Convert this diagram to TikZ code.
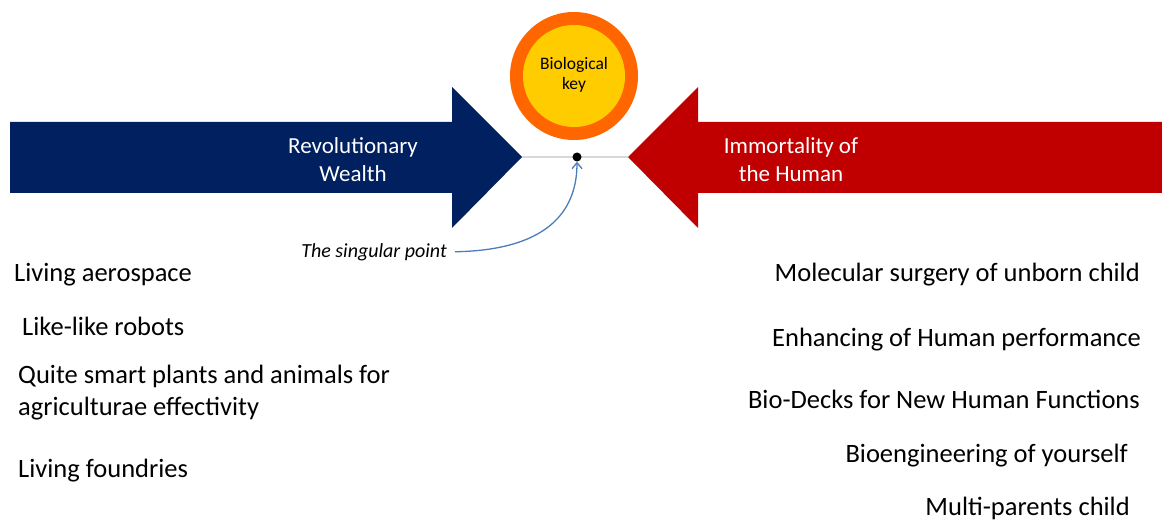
\documentclass[tikz,border=0pt]{standalone}
\usepackage{fontspec}
\setmainfont{Carlito}
\usetikzlibrary{arrows.meta}

\definecolor{wealthblue}{HTML}{002060}
\definecolor{humanred}{HTML}{C00000}
\definecolor{ringorange}{HTML}{FF6600}
\definecolor{coreyellow}{HTML}{FFCC00}
\definecolor{axisgray}{HTML}{D9D9D9}
\definecolor{pointerblue}{HTML}{4A7EBB}

\tikzset{
  biglabel/.style={text=white, align=center, inner sep=0pt, anchor=base,
    font=\fontsize{23}{28}\selectfont},
  leftitem/.style={anchor=base west, inner sep=0pt, align=left,
    font=\fontsize{26.5}{32}\selectfont},
  rightitem/.style={anchor=base east, inner sep=0pt,
    font=\fontsize{26.5}{32}\selectfont},
  pointer/.style={draw=pointerblue, line width=1.3pt,
    -{Straight Barb[length=6pt,width=10pt]}},
}

\begin{document}
\begin{tikzpicture}[x=1pt,y=-1pt]
\useasboundingbox (0,0) rectangle (1162,521);

% the two block arrows meeting in the middle
\fill[wealthblue] (10,122) -- (452,122) -- (452,87) -- (522,157)
  -- (452,228) -- (452,193) -- (10,193) -- cycle;
\fill[humanred] (1162,122) -- (698,122) -- (698,87) -- (628,157)
  -- (698,228) -- (698,193) -- (1162,193) -- cycle;

% thin axis between the arrow tips
\coordinate (ltip) at (522,157);
\coordinate (rtip) at (628,157);
\draw[axisgray, line width=1.2pt] (ltip) -- (rtip);

% biological key disc
\node[circle, fill=ringorange, minimum size=128pt, inner sep=0pt] (ring) at (574,76) {};
\node[circle, fill=coreyellow, minimum size=102pt, inner sep=0pt] (core) at (574,76) {};
\node[align=center, inner sep=0pt, anchor=base,
  font=\fontsize{17.5}{20.5}\selectfont] (key) at (574,90) {Biological\\key};

% singular point
\node[circle, fill=black, minimum size=9pt, inner sep=0pt] (dot) at (577,157) {};

% arrow captions
\node[biglabel] (wealth) at (353,182) {Revolutionary\\Wealth};
\node[biglabel] (human) at (791,182) {Immortality of\\the Human};

% label of the singular point and its pointer
\node[anchor=base east, inner sep=0pt, font=\fontsize{20}{24}\selectfont\itshape]
  (sp) at (447,258) {The singular point};
\draw[pointer] ([xshift=8pt,yshift=1pt]sp.east) .. controls (555,250) and (577,205) .. (dot.south);

% left list
\node[leftitem] (l1) at (14,282) {Living aerospace};
\node[leftitem] (l2) at (22,335) {Like-like robots};
\node[leftitem] (l3) at (18,415) {Quite smart plants and animals for\\agriculturae effectivity};
\node[leftitem] (l4) at (18,477) {Living foundries};

% right list
\node[rightitem] (r1) at (1140,282) {Molecular surgery of unborn child};
\node[rightitem] (r2) at (1141,346) {Enhancing of Human performance};
\node[rightitem] (r3) at (1140,408) {Bio-Decks for New Human Functions};
\node[rightitem] (r4) at (1128,462) {Bioengineering of yourself};
\node[rightitem] (r5) at (1130,515) {Multi-parents child};
\end{tikzpicture}
\end{document}
